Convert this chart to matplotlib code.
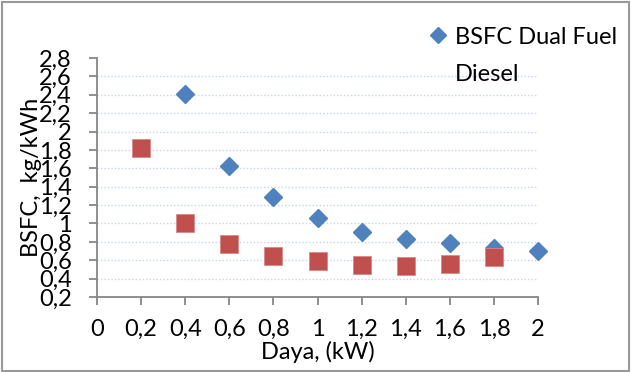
import numpy as np
import matplotlib.pyplot as plt
from matplotlib.lines import Line2D
from matplotlib.patches import Rectangle

# data
daya_dual = [0.4, 0.6, 0.8, 1.0, 1.2, 1.4, 1.6, 1.8, 2.0]
bsfc_dual = [2.41, 1.62, 1.29, 1.06, 0.91, 0.83, 0.79, 0.73, 0.70]
daya_diesel = [0.2, 0.4, 0.6, 0.8, 1.0, 1.2, 1.4, 1.6, 1.8]
bsfc_diesel = [1.82, 1.00, 0.78, 0.65, 0.59, 0.55, 0.54, 0.56, 0.64]

xticks = np.round(np.arange(0, 2.01, 0.2), 1)
yticks = np.round(np.arange(0.2, 2.81, 0.2), 1)

def comma(v):
    s = ('%g' % v)
    return s.replace('.', ',')

plt.rcParams['font.family'] = ['Lato', 'DejaVu Sans']
plt.rcParams['font.size'] = 17

fig = plt.figure(figsize=(6.31, 3.72), dpi=100)
ax = fig.add_axes([0.1537, 0.2016, 0.699, 0.6425])

blue = '#4F81BD'
red = '#C0504D'
axcol = '#868686'

ax.plot(daya_dual, bsfc_dual, linestyle='none', marker='D', ms=9.5,
        color=blue, mec=blue, clip_on=False, zorder=3)
ax.plot(daya_diesel, bsfc_diesel, linestyle='none', marker='s', ms=13.5,
        color=red, mec='#d88a88', mew=0.6, clip_on=False, zorder=3)

ax.set_xlim(0, 2)
ax.set_ylim(0.2, 2.8)
ax.set_xticks(xticks)
ax.set_xticklabels([comma(v) for v in xticks])
ax.set_yticks(yticks)
ax.set_yticklabels([comma(v) for v in yticks])

for y in yticks[1:-1]:
    ax.axhline(y, color='#c6d4ea', lw=1.0, ls=(0, (1, 1.5)), zorder=1)

for s in ['top', 'right']:
    ax.spines[s].set_visible(False)
for s in ['left', 'bottom']:
    ax.spines[s].set_color(axcol)
    ax.spines[s].set_linewidth(1.3)
ax.tick_params(axis='both', colors=axcol, labelcolor='black', width=1.3,
               length=6, direction='out')
ax.tick_params(axis='x', pad=10)
ax.tick_params(axis='y', pad=12)

ax.set_xlabel('Daya, (kW)')
ax.xaxis.set_label_coords(0.5, -0.185)
ax.set_ylabel('BSFC,  kg/kWh')
ax.yaxis.set_label_coords(-0.125, 0.5)

handles = [Line2D([], [], linestyle='none', marker='D', ms=8, color=blue),
           Line2D([], [], linestyle='none', marker='')]
ax.legend(handles, ['BSFC Dual Fuel', 'Diesel'], loc='upper left',
          bbox_to_anchor=(0.72, 1.2), frameon=False, handlelength=0.6,
          handletextpad=0.4, labelspacing=0.7, fontsize=17, borderpad=0.2)

fig.patches.append(Rectangle((0.003, 0.004), 0.994, 0.99, transform=fig.transFigure,
                             fill=False, edgecolor='#999999', lw=1.5))

fig.savefig('out.png', dpi=100)
